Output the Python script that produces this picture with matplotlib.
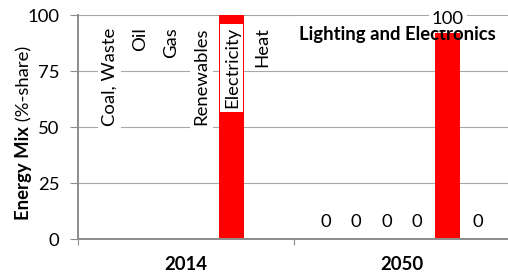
import matplotlib
matplotlib.use("Agg")
import matplotlib.pyplot as plt
from matplotlib.patches import Rectangle

# data
years = ["2014", "2050"]
carriers = ["Coal, Waste", "Oil", "Gas", "Renewables", "Electricity", "Heat"]
share_2014 = [0, 0, 0, 0, 100, 0]
share_2050 = [0, 0, 0, 0, 100, 0]
carrier_colors = ["#7F7F7F", "#404040", "#A6A6A6", "#00B050", "#FF0000", "#FFC000"]
y_ticks = [0, 25, 50, 75, 100]
title = "Lighting and Electronics"

fs = 13.3
plt.rcParams["font.family"] = ["Lato", "DejaVu Sans"]
plt.rcParams["font.size"] = fs

grey = "#8C8C8C"
slot = 30.5 / 216      # spacing of bars inside one year group
bar_w = 25 / 216

fig = plt.figure(figsize=(5.08, 2.77), dpi=100)
ax = fig.add_axes([78 / 508, 38 / 277, 432 / 508, 224 / 277])

groups = list(range(len(years)))
for k, carrier in enumerate(carriers):
    xs = [g + (k - 2.5) * slot for g in groups]
    vals = [share_2014[k], share_2050[k]]
    ax.bar(xs, vals, width=bar_w, color=carrier_colors[k], zorder=2)

    # 2014: carrier names as labels, white box behind them
    ax.text(xs[0], 94.5, carrier, rotation=90, ha="center", va="top",
            fontsize=fs, zorder=3,
            bbox=dict(boxstyle="square,pad=0.2", fc="white", ec="none"))

    # 2050: value labels above the bars, kept inside the plot area
    v = vals[1]
    if v > 90:
        ax.text(xs[1], 98, f"{v:g}", ha="center", va="center", fontsize=fs,
                zorder=5,
                bbox=dict(boxstyle="square,pad=0.15", fc="white", ec="none"))
    else:
        ax.annotate(f"{v:g}", (xs[1], v), xytext=(0, 8.5),
                    textcoords="offset points", ha="center", va="baseline",
                    fontsize=fs, zorder=5)

# title box sits over the top of the plot like a pasted text box
ax.add_patch(Rectangle((0.505, 0.92), 0.5, 0.077, transform=ax.transAxes,
                       fc="white", ec="none", zorder=3.5))
ax.text(0.512, 0.888, title, transform=ax.transAxes, ha="left",
        va="baseline", fontsize=fs, fontweight="bold", zorder=4)

ax.set_xlim(-0.5, 1.5)
ax.set_ylim(0, 100)
ax.set_yticks(y_ticks)
ax.set_xticks(groups)
ax.set_xticklabels(years, fontweight="bold")
ax.set_xticks([-0.5, 0.5, 1.5], minor=True)

ax.set_axisbelow(True)
ax.yaxis.grid(True, color="#A6A6A6", linewidth=0.8)
for side in ["top", "right"]:
    ax.spines[side].set_visible(False)
for side in ["left", "bottom"]:
    ax.spines[side].set_color(grey)
    ax.spines[side].set_linewidth(1.4)

ax.tick_params(axis="y", length=5.5, width=0.8, color=grey, pad=8)
ax.tick_params(axis="x", which="major", length=0, pad=12)
ax.tick_params(axis="x", which="minor", length=4, width=0.8, color=grey)

# y label: bold part + regular part, centred on one line
t1 = fig.text(29 / 508, 0, "Energy Mix", rotation=90, rotation_mode="anchor",
              ha="left", va="baseline", fontweight="bold", fontsize=fs)
t2 = fig.text(29 / 508, 0, " (%-share)", rotation=90, rotation_mode="anchor",
              ha="left", va="baseline", fontsize=fs)
fig.canvas.draw()
r = fig.canvas.get_renderer()
h1 = t1.get_window_extent(r).height
h2 = t2.get_window_extent(r).height
start = (277 - 133) - (h1 + h2) / 2
t1.set_y(start / 277)
t2.set_y((start + h1) / 277)

fig.savefig("out.png", dpi=100)
